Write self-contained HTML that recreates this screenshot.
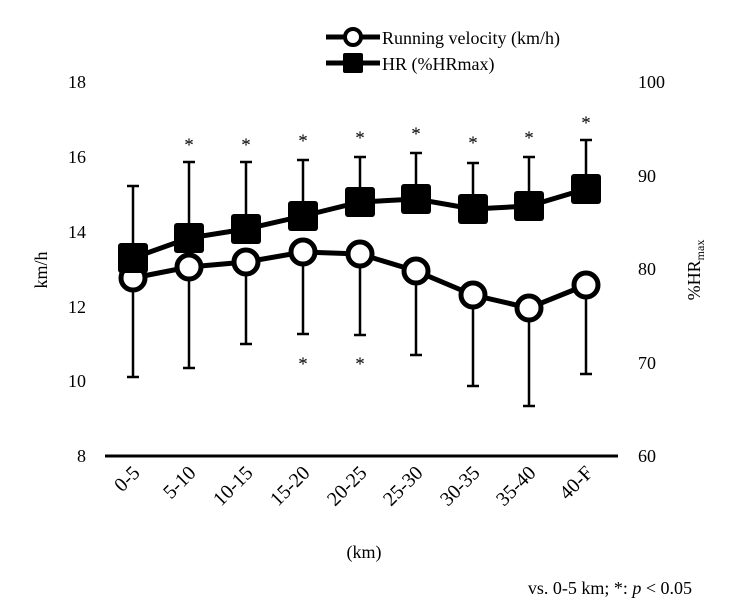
<!DOCTYPE html>
<html><head><style>body{margin:0;background:#fff}</style></head><body>
<svg width="730" height="607" xmlns="http://www.w3.org/2000/svg" font-family="Liberation Serif, serif" fill="#000">
<g font-size="18" text-anchor="end">
<text x="86" y="88">18</text><text x="86" y="163">16</text><text x="86" y="238">14</text><text x="86" y="313">12</text><text x="86" y="387">10</text><text x="86" y="462">8</text>
</g>
<g font-size="18" text-anchor="start">
<text x="638" y="88">100</text><text x="638" y="182">90</text><text x="638" y="275">80</text><text x="638" y="369">70</text><text x="638" y="462">60</text>
</g>
<text transform="translate(47,270) rotate(-90)" font-size="18" text-anchor="middle">km/h</text>
<text transform="translate(700,270) rotate(-90)" font-size="18" text-anchor="middle">%HR<tspan font-size="12" dy="4">max</tspan></text>
<line x1="105" y1="456" x2="618" y2="456" stroke="#000" stroke-width="3"/>
<g font-size="20" text-anchor="end">
<text transform="translate(141,474) rotate(-45)">0-5</text>
<text transform="translate(197,474) rotate(-45)">5-10</text>
<text transform="translate(254,474) rotate(-45)">10-15</text>
<text transform="translate(311,474) rotate(-45)">15-20</text>
<text transform="translate(368,474) rotate(-45)">20-25</text>
<text transform="translate(424,474) rotate(-45)">25-30</text>
<text transform="translate(481,474) rotate(-45)">30-35</text>
<text transform="translate(537,474) rotate(-45)">35-40</text>
<text transform="translate(594,474) rotate(-45)">40-F</text>
</g>
<text x="364" y="558" font-size="18" text-anchor="middle">(km)</text>
<text x="692" y="594" font-size="18" text-anchor="end">vs. 0-5 km; *: <tspan font-style="italic">p</tspan> &lt; 0.05</text>
<g stroke="#000" stroke-width="2.5">
<path d="M133,278V377M127,377h12 M189,267V368M183,368h12 M246,262V344M240,344h12 M303,252V334M297,334h12 M360,254V335M354,335h12 M416,271V355M410,355h12 M473,295V386M467,386h12 M529,308V406M523,406h12 M586,285V374M580,374h12"/>
<path d="M133,258V186M127,186h12 M189,238V162M183,162h12 M246,229V162M240,162h12 M303,216V160M297,160h12 M360,202V157M354,157h12 M416,199V153M410,153h12 M473,209V163M467,163h12 M529,206V157M523,157h12 M586,189V140M580,140h12"/>
</g>
<polyline points="133,278 189,267 246,262 303,252 360,254 416,271 473,295 529,308 586,285" fill="none" stroke="#000" stroke-width="5"/>
<g fill="#fff" stroke="#000" stroke-width="5">
<circle cx="133" cy="278" r="12"/><circle cx="189" cy="267" r="12"/><circle cx="246" cy="262" r="12"/><circle cx="303" cy="252" r="12"/><circle cx="360" cy="254" r="12"/><circle cx="416" cy="271" r="12"/><circle cx="473" cy="295" r="12"/><circle cx="529" cy="308" r="12"/><circle cx="586" cy="285" r="12"/>
</g>
<polyline points="133,258 189,238 246,229 303,216 360,202 416,199 473,209 529,206 586,189" fill="none" stroke="#000" stroke-width="5"/>
<g>
<rect x="118" y="243" width="30" height="30" rx="3"/><rect x="174" y="223" width="30" height="30" rx="3"/><rect x="231" y="214" width="30" height="30" rx="3"/><rect x="288" y="201" width="30" height="30" rx="3"/><rect x="345" y="187" width="30" height="30" rx="3"/><rect x="401" y="184" width="30" height="30" rx="3"/><rect x="458" y="194" width="30" height="30" rx="3"/><rect x="514" y="191" width="30" height="30" rx="3"/><rect x="571" y="174" width="30" height="30" rx="3"/>
</g>
<g font-size="19" text-anchor="middle">
<text x="189" y="151">*</text><text x="246" y="151">*</text><text x="303" y="147">*</text><text x="360" y="144">*</text><text x="416" y="140">*</text><text x="473" y="149">*</text><text x="529" y="144">*</text><text x="586" y="129">*</text>
<text x="303" y="370">*</text><text x="360" y="370">*</text>
</g>
<line x1="326" y1="37" x2="380" y2="37" stroke="#000" stroke-width="5"/>
<circle cx="353" cy="37" r="8" fill="#fff" stroke="#000" stroke-width="4"/>
<line x1="326" y1="63" x2="380" y2="63" stroke="#000" stroke-width="5"/>
<rect x="343" y="53" width="20" height="20" rx="2"/>
<text x="382" y="44" font-size="18">Running velocity (km/h)</text>
<text x="382" y="70" font-size="18">HR (%HRmax)</text>
</svg>
</body></html>
